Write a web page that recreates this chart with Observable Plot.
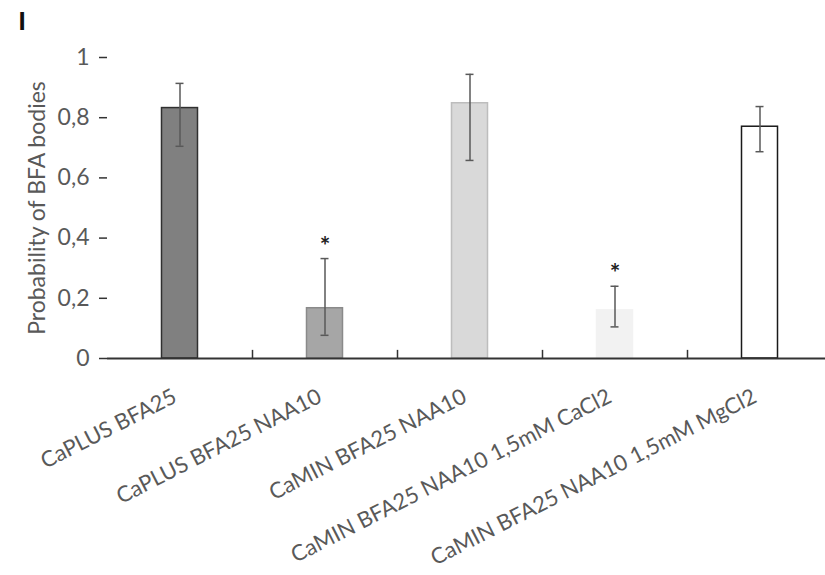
<!DOCTYPE html>
<html>
<head>
<meta charset="utf-8">
<script src="https://cdn.jsdelivr.net/npm/d3@7"></script>
<script src="https://cdn.jsdelivr.net/npm/@observablehq/plot@0.6"></script>
<style>
  html, body { margin: 0; padding: 0; background: #fff; }
  #chart svg { display: block; }
</style>
</head>
<body>
<div id="chart"></div>
<script>
const categories = [
  "CaPLUS BFA25",
  "CaPLUS BFA25 NAA10",
  "CaMIN BFA25 NAA10",
  "CaMIN BFA25 NAA10 1,5mM CaCl2",
  "CaMIN BFA25 NAA10 1,5mM MgCl2"
];
const values = [0.832, 0.167, 0.848, 0.160, 0.770];
const errLow = [0.705, 0.077, 0.658, 0.105, 0.687];
const errHigh = [0.914, 0.332, 0.944, 0.240, 0.837];
const significant = [false, true, false, true, false];
const fills = ["#808080", "#a6a6a6", "#d9d9d9", "#f2f2f2", "#ffffff"];
const strokes = ["#303030", "#8a8a8a", "#bdbdbd", "#f2f2f2", "#1a1a1a"];
const yTicks = [0, 0.2, 0.4, 0.6, 0.8, 1];
const yLabel = "Probability of BFA bodies";
const panelLetter = "I";

const data = categories.map((c, i) => ({
  cat: c, value: values[i], lo: errLow[i], hi: errHigh[i],
  sig: significant[i], fill: fills[i], stroke: strokes[i]
}));

const font = "Lato, 'Open Sans', sans-serif";
const grey = "#595959";

const chart = Plot.plot({
  width: 825,
  height: 575,
  marginLeft: 107,
  marginTop: 57,
  marginRight: 0,
  marginBottom: 217,
  style: { fontFamily: font, background: "#fff", overflow: "visible" },
  x: { type: "band", domain: categories, range: [107, 832], padding: 0, axis: null },
  y: { domain: [0, 1], axis: null },
  marks: [
    Plot.axisY({
      ticks: yTicks,
      tickFormat: d => String(d).replace(".", ","),
      tickSize: 8,
      tickPadding: 10,
      fontSize: 23,
      color: grey,
      stroke: "#333",
      strokeWidth: 1.5,
      line: true,
      label: null
    }),
    Plot.text([yLabel], {
      frameAnchor: "left",
      textAnchor: "middle",
      rotate: -90,
      dx: -70,
      fontSize: 23,
      fill: grey
    }),
    Plot.barY(data, {
      x: "cat", y: "value",
      fill: d => d.fill, stroke: d => d.stroke, strokeWidth: 1.5,
      insetLeft: 54.5, insetRight: 54.5
    }),
    Plot.ruleX(data, { x: "cat", y1: "lo", y2: "hi", stroke: grey, strokeWidth: 1.5 }),
    Plot.tickY(data, { x: "cat", y: "lo", stroke: grey, strokeWidth: 1.5, insetLeft: 68.5, insetRight: 68.5 }),
    Plot.tickY(data, { x: "cat", y: "hi", stroke: grey, strokeWidth: 1.5, insetLeft: 68.5, insetRight: 68.5 }),
    Plot.text(data.filter(d => d.sig), {
      x: "cat", y: "hi", text: () => "*", dy: -12,
      fontSize: 25, fontWeight: "bold", fill: "#222", lineAnchor: "middle"
    }),
    Plot.ruleY([0], { stroke: "#333", strokeWidth: 2 }),
    Plot.ruleX(categories.slice(1), { x: d => d, y1: 0, y2: 0.027, dx: -72.5, stroke: "#333", strokeWidth: 1.5 }),
    Plot.text(categories, {
      x: d => d, y: 0,
      text: d => d,
      rotate: -27,
      textAnchor: "end",
      lineAnchor: "top",
      dx: -9, dy: 29,
      fontSize: 22,
      fill: grey
    }),
    Plot.text([panelLetter], {
      frameAnchor: "top-left",
      dx: -89, dy: -46,
      lineAnchor: "top",
      fontSize: 26,
      fontWeight: "bold",
      fontFamily: "'Liberation Sans', Arial, sans-serif",
      fill: "#111"
    })
  ]
});
document.getElementById("chart").appendChild(chart);
</script>
</body>
</html>
